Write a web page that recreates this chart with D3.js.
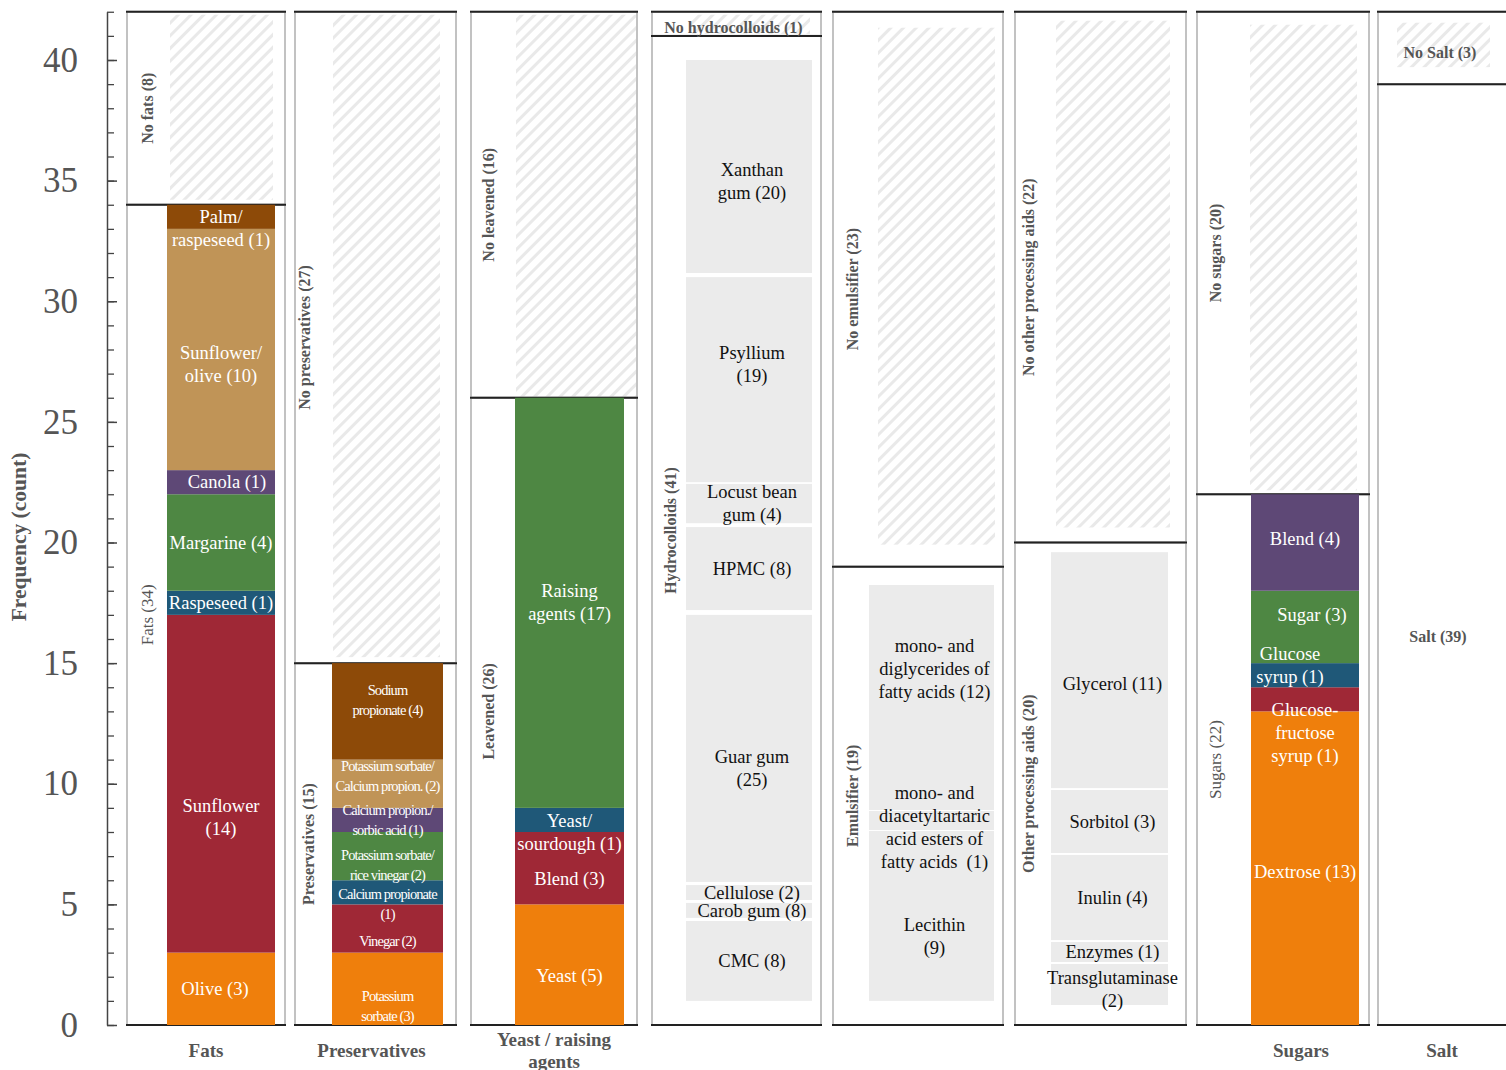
<!DOCTYPE html>
<html>
<head>
<meta charset="utf-8">
<script src="https://cdn.jsdelivr.net/npm/d3@7"></script>
<style>
  body { margin: 0; background: #fff; }
  svg text { font-family: "Liberation Serif", "Times New Roman", serif; }
</style>
</head>
<body>
<div class="chartContainer"></div>
<script>
// ---- data (counts) ----
const panelNames = ["Fats", "Preservatives", "Yeast / raising agents", "Hydrocolloids", "Emulsifier", "Other processing aids", "Sugars", "Salt"];
const xLabels = ["Fats", "Preservatives", "Yeast / raising|agents", "", "", "", "Sugars", "Salt"];
const noLabels = ["No fats", "No preservatives", "No leavened", "No hydrocolloids", "No emulsifier", "No other processing aids", "No sugars", "No Salt"];
const noCounts = [8, 27, 16, 1, 23, 22, 20, 3];
const yesLabels = ["Fats", "Preservatives", "Leavened", "Hydrocolloids", "Emulsifier", "Other processing aids", "Sugars", "Salt"];
const yesCounts = [34, 15, 26, 41, 19, 20, 22, 39];

// stacked coloured bars
const fatNames = ["Olive (3)", "Sunflower|(14)", "Raspeseed (1)", "Margarine (4)", "Canola (1)", "Sunflower/|olive (10)", "Palm/|raspeseed (1)"];
const fatCounts = [3, 14, 1, 4, 1, 10, 1];
const presNames = ["Potassium|sorbate (3)", "Vinegar (2)", "Calcium propionate|(1)", "Potassium sorbate/|rice vinegar (2)", "Calcium propion./|sorbic acid (1)", "Potassium sorbate/|Calcium propion. (2)", "Sodium|propionate (4)"];
const presCounts = [3, 2, 1, 2, 1, 2, 4];
const yeastNames = ["Yeast (5)", "Blend (3)", "Yeast/|sourdough (1)", "Raising|agents (17)"];
const yeastCounts = [5, 3, 1, 17];
const sugarNames = ["Dextrose (13)", "Glucose-|fructose|syrup (1)", "Glucose|syrup (1)", "Sugar (3)", "Blend (4)"];
const sugarCounts = [13, 1, 1, 3, 4];

// grey blocks (extent on the count axis as drawn)
const hydroNames = ["Xanthan|gum (20)", "Psyllium|(19)", "Locust bean|gum (4)", "HPMC (8)", "Guar gum|(25)", "Cellulose (2)", "Carob gum (8)", "CMC (8)"];
const hydroTop = [40, 31.0, 22.43, 20.64, 17.0, 5.8, 5.06, 4.31];
const hydroBottom = [31.17, 22.5, 20.8, 17.2, 5.93, 5.18, 4.44, 1.0];
const emulNames = ["mono- and|diglycerides of|fatty acids (12)", "mono- and|diacetyltartaric|acid esters of|fatty acids\u00a0 (1)", "Lecithin|(9)"];
const emulTop = [18.24, 8.87, 8.04];
const emulBottom = [8.91, 8.08, 1.0];
const otherNames = ["Glycerol (11)", "Sorbitol (3)", "Inulin (4)", "Enzymes (1)", "Transglutaminase|(2)"];
const otherTop = [19.6, 9.74, 7.05, 3.44, 2.53];
const otherBottom = [9.82, 7.13, 3.52, 2.61, 0.83];

const palette = ["#ef7f0c", "#9f2836", "#1f5878", "#4e8743", "#5e4876", "#c09457", "#8d4a08"];

// ---- layout ----
const W = 1506, H = 1070;
const panelX0 = [127, 295, 471, 652, 833, 1015, 1197, 1378];
const panelX1 = [285, 456, 637, 821, 1003, 1186, 1369, 1514];
const barX0 = [167, 332, 515, 686, 869, 1051, 1251, 1397];
const barX1 = [275, 443, 624, 812, 994, 1168, 1359, 1490];
const hatchX0 = [170, 333, 516, 690, 878, 1056, 1250, 1397];
const hatchX1 = [273, 440, 636, 810, 995, 1170, 1357, 1490];
const hatchPadTop = [3, 3, 3, 3, 16, 9, 13, 11];
const hatchPadBot = [5, 6, 1, 2, 22, 15, 4, 17];
const sideX = [20, 9, 17, 18, 19, 13, 18, 0];
const nudge = {
  "Sunflower|(14)": 34, "Sunflower/|olive (10)": 15, "Palm/|raspeseed (1)": 12,
  "Potassium|sorbate (3)": 17, "Vinegar (2)": 13, "Calcium propionate|(1)": 12,
  "Potassium sorbate/|rice vinegar (2)": 9, "Potassium sorbate/|Calcium propion. (2)": -8,
  "Sodium|propionate (4)": -11, "Yeast (5)": 11, "Blend (3)": 11, "Yeast/|sourdough (1)": 12,
  "Dextrose (13)": 4, "Glucose-|fructose|syrup (1)": 34, "Glucose|syrup (1)": -10,
  "Sugar (3)": -12, "Blend (4)": -4, "Xanthan|gum (20)": 15, "Psyllium|(19)": -15,
  "Guar gum|(25)": 20, "mono- and|diglycerides of|fatty acids (12)": -29,
  "mono- and|diacetyltartaric|acid esters of|fatty acids\u00a0 (1)": 7, "Lecithin|(9)": 20,
  "Glycerol (11)": 14, "Transglutaminase|(2)": 5
};
const nudgeX = { "Glucose|syrup (1)": -15, "Sugar (3)": 7, "Canola (1)": 6, "Olive (3)": -6 };

const y = d3.scaleLinear().domain([0, 42]).range([1025, 11.75]);
const color = d3.scaleOrdinal().domain(d3.range(7)).range(palette);

const svg = d3.select(".chartContainer").append("svg")
  .attr("width", W).attr("height", H);

// hatch pattern for the "No ..." sections
const pat = svg.append("defs").append("pattern")
  .attr("id", "hatch").attr("patternUnits", "userSpaceOnUse")
  .attr("width", 9).attr("height", 9)
  .attr("patternTransform", "rotate(45)");
pat.append("rect").attr("width", 9).attr("height", 9).attr("fill", "#fff");
pat.append("line").attr("x1", 1.5).attr("x2", 1.5).attr("y1", 0).attr("y2", 9)
  .attr("stroke", "#e9e9e9").attr("stroke-width", 3);

// multi-line text helper
function multiText(g, str, cx, cy, size, lh, fill, extra) {
  const lines = str.split("|");
  const t = g.append("text").attr("text-anchor", "middle")
    .attr("fill", fill).style("font-size", size + "px");
  if (extra) extra(t);
  lines.forEach((ln, i) => {
    t.append("tspan").attr("x", cx)
      .attr("y", cy - (lines.length - 1) / 2 * lh + i * lh + size * 0.33)
      .text(ln);
  });
  return t;
}

// ---- panels ----
panelNames.forEach((name, p) => {
  const g = svg.append("g").attr("class", "panel");
  const x0 = panelX0[p], x1 = panelX1[p];
  const split = yesCounts[p];
  const top = split + noCounts[p];

  // hatch in "No" section
  g.append("rect")
    .attr("x", hatchX0[p]).attr("width", hatchX1[p] - hatchX0[p])
    .attr("y", y(top) + hatchPadTop[p])
    .attr("height", y(split) - y(top) - hatchPadTop[p] - hatchPadBot[p])
    .attr("fill", "url(#hatch)");

  // section frames
  [[split, top], [0, split]].forEach(([a, b]) => {
    g.append("rect").attr("x", x0).attr("width", x1 - x0)
      .attr("y", y(b)).attr("height", y(a) - y(b))
      .attr("fill", "none").attr("stroke", "#c2c2c2").attr("stroke-width", 2);
  });
  [top, split, 0].forEach((v) => {
    g.append("line").attr("x1", x0 - 1).attr("x2", x1 + 1)
      .attr("y1", y(v)).attr("y2", y(v))
      .attr("stroke", "#222").attr("stroke-width", 2);
  });

  // section labels
  const horiz = p === 7;
  const noTxt = noLabels[p] + " (" + noCounts[p] + ")";
  const yesTxt = yesLabels[p] + " (" + yesCounts[p] + ")";
  if (horiz || p === 3) {
    g.append("text").attr("x", (x0 + x1) / 2 - (p === 7 ? 6 : 3)).attr("y", y((top + split) / 2) + 4)
      .attr("text-anchor", "middle").attr("dy", "0.35em")
      .attr("fill", "#555").style("font-size", "16px").style("font-weight", "bold")
      .text(noTxt);
  } else {
    const lx = x0 + sideX[p], ly = y((top + split) / 2);
    g.append("text").attr("transform", `translate(${lx},${ly}) rotate(-90)`)
      .attr("text-anchor", "middle").attr("dy", "0.35em")
      .attr("fill", "#555").style("font-size", "16px").style("font-weight", "bold")
      .text(noTxt);
  }
  if (horiz) {
    g.append("text").attr("x", (x0 + 1506) / 2 - 4).attr("y", y(split / 2) + 82)
      .attr("text-anchor", "middle").attr("dy", "0.35em")
      .attr("fill", "#555").style("font-size", "16px").style("font-weight", "bold")
      .text(yesTxt);
  } else {
    const reg = (p === 0 || p === 6);
    const lx = x0 + sideX[p] + (p === 1 ? 4 : 0), ly = y(split / 2);
    g.append("text").attr("transform", `translate(${lx},${ly}) rotate(-90)`)
      .attr("text-anchor", "middle").attr("dy", "0.35em")
      .attr("fill", "#555").style("font-size", reg ? "17px" : "16px")
      .style("font-weight", reg ? "normal" : "bold")
      .text(yesTxt);
  }

  // x-axis label
  if (xLabels[p]) {
    const cx = p === 7 ? 1442 : (x0 + x1) / 2 + (p === 6 ? 18 : p === 1 ? -4 : 0);
    multiText(g, xLabels[p], cx, 1051, 19, 22, "#555",
      (t) => t.style("font-weight", "bold"));
  }
});

// ---- stacked coloured bars ----
function stackedBar(p, names, counts, small) {
  const g = svg.append("g").attr("class", "bar");
  const ends = Array.from(d3.cumsum(counts));
  const segs = names.map((n, i) => ({ name: n, i: i, y0: ends[i] - counts[i], y1: ends[i] }));
  g.selectAll("rect").data(segs).join("rect")
    .attr("x", barX0[p]).attr("width", barX1[p] - barX0[p])
    .attr("y", (d) => y(d.y1)).attr("height", (d) => y(d.y0) - y(d.y1))
    .attr("fill", (d) => color(d.i));
  const cx = (barX0[p] + barX1[p]) / 2;
  segs.forEach((d) => {
    const cy = y((d.y0 + d.y1) / 2) + (nudge[d.name] || 0);
    multiText(g, d.name, cx + (nudgeX[d.name] || 0), cy, small ? 14.5 : 18.5, small ? 20 : 23, "#fff",
      small ? (t) => t.style("letter-spacing", "-0.9px") : null);
  });
}
stackedBar(0, fatNames, fatCounts, false);
stackedBar(1, presNames, presCounts, true);
stackedBar(2, yeastNames, yeastCounts, false);
stackedBar(6, sugarNames, sugarCounts, false);

// ---- grey blocks ----
function greyBlocks(p, names, tops, bottoms) {
  const g = svg.append("g").attr("class", "blocks");
  const blocks = names.map((n, i) => ({ name: n, top: tops[i], bot: bottoms[i] }));
  g.selectAll("rect").data(blocks).join("rect")
    .attr("x", barX0[p]).attr("width", barX1[p] - barX0[p])
    .attr("y", (d) => y(d.top)).attr("height", (d) => y(d.bot) - y(d.top))
    .attr("fill", "#ebebeb");
  const cx = (barX0[p] + barX1[p]) / 2 + 3;
  blocks.forEach((d) => {
    const cy = y((d.top + d.bot) / 2) + (nudge[d.name] || 0);
    multiText(g, d.name, cx, cy, 18.5, 23, "#111");
  });
}
greyBlocks(3, hydroNames, hydroTop, hydroBottom);
greyBlocks(4, emulNames, emulTop, emulBottom);
greyBlocks(5, otherNames, otherTop, otherBottom);

// ---- y axis ----
const axisX = 107;
svg.append("g").attr("transform", `translate(${axisX},0)`)
  .call(d3.axisLeft(y).tickValues(d3.range(0, 43)).tickSizeInner(-7).tickSizeOuter(0).tickFormat(""))
  .call((g) => g.select(".domain").remove())
  .call((g) => g.selectAll("line").attr("stroke", "#444").attr("stroke-width", 1.3));
svg.append("g").attr("transform", `translate(${axisX},0)`)
  .call(d3.axisLeft(y).tickValues(d3.range(0, 41, 5)).tickSizeInner(-10).tickSizeOuter(0).tickPadding(29))
  .call((g) => g.select(".domain").attr("stroke", "#444").attr("stroke-width", 1.5))
  .call((g) => g.selectAll("line").attr("stroke", "#444").attr("stroke-width", 1.5))
  .call((g) => g.selectAll("text").attr("fill", "#555")
    .style("font-family", "'Liberation Serif', 'Times New Roman', serif").style("font-size", "35px"));

svg.append("text")
  .attr("transform", `translate(18,${537}) rotate(-90)`)
  .attr("text-anchor", "middle").attr("dy", "0.35em")
  .attr("fill", "#555").style("font-size", "21.5px").style("font-weight", "bold")
  .text("Frequency (count)");
</script>
</body>
</html>
